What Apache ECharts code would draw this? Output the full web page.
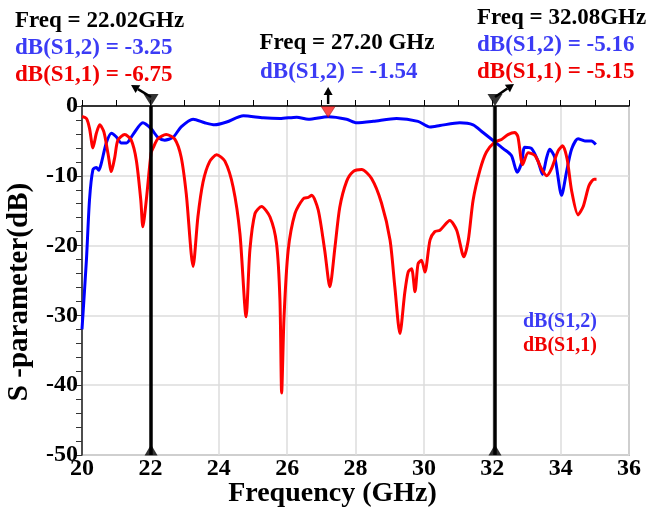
<!DOCTYPE html>
<html>
<head>
<meta charset="utf-8">
<script src="https://cdn.jsdelivr.net/npm/echarts@6/dist/echarts.min.js"></script>
<style>
  html, body { margin: 0; padding: 0; background: #fff; }
  #chart { width: 647px; height: 512px; }
</style>
</head>
<body>
<div id="chart"></div>
<script>
// S-parameter data (GHz, dB)
const s12Freq = [20.0, 20.13, 20.22, 20.32, 20.42, 20.49, 20.56, 20.71, 20.86, 21.0, 21.15, 21.3, 21.49, 21.78, 22.02, 22.22, 22.42, 22.66, 22.9, 23.25, 23.59, 23.88, 24.23, 24.72, 25.3, 25.79, 26.28, 26.62, 27.2, 27.74, 28.03, 28.52, 29.2, 29.83, 30.18, 30.47, 31.05, 31.44, 31.73, 32.08, 32.32, 32.56, 32.73, 32.86, 32.95, 33.15, 33.34, 33.47, 33.59, 33.68, 33.83, 34.03, 34.17, 34.32, 34.51, 34.71, 34.9, 35.03];
const s12dB = [-32, -22, -13.4, -9.1, -8.8, -9.2, -8.3, -5.3, -3.9, -4.4, -5.3, -5.3, -4.1, -2.4, -3.25, -4.5, -4.9, -4.5, -3.0, -1.9, -2.4, -2.7, -2.3, -1.4, -1.7, -1.8, -1.6, -1.9, -1.54, -1.9, -2.4, -2.2, -1.8, -2.2, -3.0, -2.8, -2.4, -2.7, -3.8, -5.16, -6.1, -7.1, -9.5, -8.1, -5.9, -6.1, -7.9, -9.8, -7.4, -6.2, -7.4, -12.8, -9.5, -6.2, -4.7, -5.0, -5.0, -5.5];

const s11Freq = [20.0, 20.13, 20.22, 20.32, 20.42, 20.52, 20.64, 20.76, 20.86, 20.96, 21.05, 21.25, 21.44, 21.59, 21.72, 21.78, 21.88, 22.02, 22.08, 22.22, 22.46, 22.71, 22.9, 23.05, 23.25, 23.39, 23.54, 23.73, 23.94, 24.18, 24.42, 24.62, 24.8, 24.91, 25.06, 25.25, 25.5, 25.69, 25.79, 25.84, 25.91, 26.03, 26.23, 26.47, 26.62, 26.72, 26.91, 27.1, 27.25, 27.4, 27.54, 27.74, 27.93, 28.18, 28.47, 28.76, 29.01, 29.15, 29.3, 29.44, 29.54, 29.64, 29.74, 29.83, 29.93, 30.03, 30.18, 30.32, 30.47, 30.76, 30.96, 31.17, 31.3, 31.44, 31.64, 31.83, 32.08, 32.27, 32.46, 32.66, 32.75, 32.89, 33.05, 33.25, 33.44, 33.59, 33.73, 33.93, 34.06, 34.19, 34.32, 34.51, 34.66, 34.83, 34.98, 35.05];
const s11dB = [-1.5, -1.8, -3.2, -6.0, -3.9, -2.7, -3.7, -6.8, -9.4, -7.3, -4.9, -4.1, -4.9, -7.8, -13.5, -17.3, -13.5, -6.75, -6.0, -4.7, -4.1, -4.7, -7.3, -12.6, -23.0, -15.9, -10.9, -8.0, -7.0, -7.9, -11.6, -18.3, -30.2, -20.7, -15.4, -14.4, -15.9, -19.7, -27.8, -41.1, -30.2, -20.7, -15.4, -13.3, -13.1, -12.8, -14.9, -20.7, -25.9, -20.2, -14.5, -10.8, -9.4, -9.1, -10.4, -13.9, -19.2, -25.9, -32.6, -26.8, -23.8, -23.3, -26.6, -22.6, -22.1, -23.8, -19.2, -18.0, -17.8, -16.4, -17.8, -21.6, -19.2, -13.5, -9.2, -6.6, -5.15, -4.8, -4.1, -3.8, -4.4, -8.4, -6.7, -7.1, -9.0, -10.0, -9.0, -6.4, -5.7, -7.6, -12.1, -15.6, -14.4, -11.4, -10.5, -10.5];

// markers
const markerFreqs = [22.02, 32.08];
const peakFreq = 27.20;

const zip = (xs, ys) => xs.map((x, i) => [x, ys[i]]);
const serifFont = '"Liberation Serif", "Times New Roman", serif';
const blueText = '#3b3bf5';
const redText = '#f00000';

const chart = echarts.init(document.getElementById('chart'));

const option = {
  animation: false,
  grid: {
    left: 82, right: 18, top: 106, bottom: 57,
    outerBoundsMode: 'none',
    containLabel: false,
    show: true,
    borderColor: '#8c8c8c',
    borderWidth: 1.5
  },
  xAxis: {
    type: 'value',
    min: 20, max: 36, interval: 2,
    name: 'Frequency (GHz)',
    nameLocation: 'middle',
    nameGap: 25,
    nameMoveOverlap: false,
    nameTextStyle: { fontFamily: serifFont, fontWeight: 'bold', fontSize: 28, color: '#000', padding: [0, 46, 0, 0] },
    axisLine: { lineStyle: { color: '#000', width: 1.5 } },
    axisTick: { show: true, inside: true, length: 6, lineStyle: { color: '#000' } },
    minorTick: { show: true, splitNumber: 2, length: 6, lineStyle: { color: '#000' } },
    axisLabel: { fontFamily: serifFont, fontWeight: 'bold', fontSize: 24, color: '#000', margin: 2 },
    splitLine: { show: true, lineStyle: { color: '#dcdcdc', width: 1.5 } }
  },
  yAxis: {
    type: 'value',
    min: -50, max: 0, interval: 10,
    axisLine: { show: true, lineStyle: { color: '#222', width: 1.5 } },
    axisTick: { show: true, length: 6, lineStyle: { color: '#333' } },
    minorTick: { show: true, splitNumber: 5, length: 6, lineStyle: { color: '#333' } },
    axisLabel: { fontFamily: serifFont, fontWeight: 'bold', fontSize: 24, color: '#000', margin: 4 },
    splitLine: { show: true, lineStyle: { color: '#dcdcdc', width: 1.5 } }
  },
  series: [
    {
      name: 'dB(S1,2)',
      type: 'line',
      data: zip(s12Freq, s12dB),
      showSymbol: false,
      smooth: 0.25,
      lineStyle: { color: '#0000ff', width: 3 },
      z: 3
    },
    {
      name: 'dB(S1,1)',
      type: 'line',
      data: zip(s11Freq, s11dB),
      showSymbol: false,
      smooth: 0.25,
      lineStyle: { color: '#ff0000', width: 3 },
      z: 4,
      markLine: {
        silent: true,
        symbol: 'none',
        label: { show: false },
        lineStyle: { color: '#000', width: 3.5, type: 'solid' },
        data: markerFreqs.map(f => ({ xAxis: f }))
      }
    },
    {
      // marker triangles at top
      type: 'scatter',
      clip: false,
      symbol: 'triangle',
      symbolSize: [15, 12],
      symbolRotate: 180,
      symbolOffset: [0, -6],
      itemStyle: { color: '#000' },
      data: markerFreqs.map(f => [f, 0]),
      z: 6
    },
    {
      // marker triangles at bottom
      type: 'scatter',
      clip: false,
      symbol: 'triangle',
      symbolSize: [13, 11],
      symbolOffset: [0, -5],
      itemStyle: { color: '#000' },
      data: markerFreqs.map(f => [f, -50]),
      z: 6
    },
    {
      // red triangle on the S12 peak
      type: 'scatter',
      clip: false,
      symbol: 'triangle',
      symbolSize: [14, 11],
      symbolRotate: 180,
      symbolOffset: [0, 6],
      itemStyle: { color: '#ff1a1a', borderColor: '#600', borderWidth: 0.5 },
      data: [[peakFreq, 0]],
      z: 6
    }
  ]
};

chart.setOption(option);

// annotation arrows, placed relative to the marker positions
const arrow = (x1, y1, x2, y2) => {
  const ang = Math.atan2(y2 - y1, x2 - x1);
  const hl = 8, hw = 4.5;
  const bx = x2 - hl * Math.cos(ang), by = y2 - hl * Math.sin(ang);
  const nx = -Math.sin(ang), ny = Math.cos(ang);
  return [
    { type: 'line', shape: { x1: x1, y1: y1, x2: bx, y2: by }, style: { stroke: '#000', lineWidth: 2.5 }, z: 10 },
    { type: 'polygon', shape: { points: [[x2, y2], [bx + nx * hw, by + ny * hw], [bx - nx * hw, by - ny * hw]] }, style: { fill: '#000' }, z: 10 }
  ];
};

const pL = chart.convertToPixel({ gridIndex: 0 }, [markerFreqs[0], 0]);
const pR = chart.convertToPixel({ gridIndex: 0 }, [markerFreqs[1], 0]);
const pM = chart.convertToPixel({ gridIndex: 0 }, [peakFreq, 0]);

const txt = (x, y, text, color, size, align) => ({
  type: 'text', x: x, y: y, z: 10,
  style: {
    text: text, fill: color, font: 'bold ' + size + 'px ' + serifFont,
    textAlign: align || 'left', textVerticalAlign: 'middle'
  }
});

const yName = txt(20, 292, 'S -parameter(dB)', '#000', 29, 'center');
yName.rotation = Math.PI / 2;

const graphics = []
  .concat(arrow(pL[0], pL[1] - 9, pL[0] - 20, pL[1] - 21))
  .concat(arrow(pR[0], pR[1] - 9, pR[0] + 19, pR[1] - 22))
  .concat(arrow(pM[0], pM[1] - 2, pM[0], pM[1] - 19))
  .concat([
    yName,
    txt(15, 21, 'Freq = 22.02GHz', '#000', 23),
    txt(15, 48, 'dB(S1,2) = -3.25', blueText, 23),
    txt(15, 75, 'dB(S1,1) = -6.75', redText, 23),
    txt(347, 43, 'Freq = 27.20 GHz', '#000', 23, 'center'),
    txt(260, 72, 'dB(S1,2) = -1.54', blueText, 23),
    txt(477, 18, 'Freq = 32.08GHz', '#000', 23),
    txt(477, 45, 'dB(S1,2) = -5.16', blueText, 23),
    txt(477, 72, 'dB(S1,1) = -5.15', redText, 23),
    txt(523, 322, 'dB(S1,2)', blueText, 20),
    txt(523, 346, 'dB(S1,1)', redText, 20)
  ]);

chart.setOption({ graphic: graphics });
</script>
</body>
</html>
